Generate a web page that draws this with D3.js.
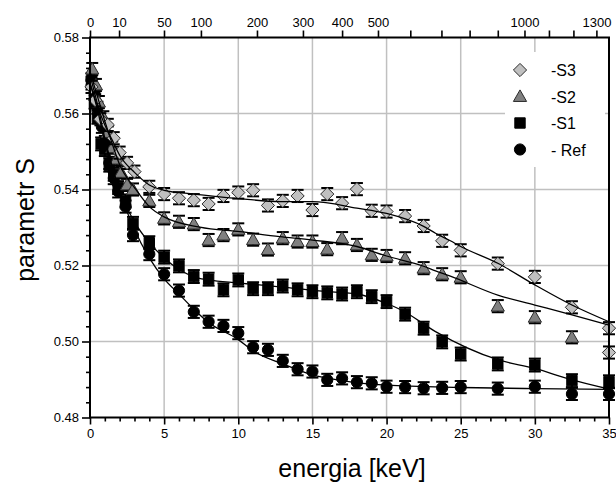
<!DOCTYPE html>
<html>
<head>
<meta charset="utf-8">
<script src="https://cdn.jsdelivr.net/npm/d3@7"></script>
<style>
  body { margin: 0; background: #fff; }
  text { font-family: "Liberation Sans", Arial, sans-serif; }
</style>
</head>
<body>
<svg width="616" height="489"></svg>
<script>
// data

var energyRef = [0.1, 0.3, 0.5, 0.8, 1.0, 1.3, 1.6, 1.9, 2.4, 2.9, 4, 5, 6, 7, 8, 9, 10, 11, 12, 13, 14, 15, 16, 17, 18, 19, 20, 21.25, 22.5, 23.75, 25, 27.5, 30, 32.5, 35];
var sRef = [0.5690, 0.5655, 0.5615, 0.5565, 0.5525, 0.5470, 0.5430, 0.5395, 0.5355, 0.5280, 0.5230, 0.5177, 0.5134, 0.5078, 0.5052, 0.5041, 0.5022, 0.4985, 0.4978, 0.4949, 0.4927, 0.4921, 0.4899, 0.4903, 0.4893, 0.4890, 0.4881, 0.4880, 0.4877, 0.4878, 0.4880, 0.4876, 0.4881, 0.4862, 0.4862];

var energyS1 = [0.1, 0.3, 0.5, 0.75, 1.0, 1.3, 1.6, 1.9, 2.4, 2.9, 4, 5, 6, 7, 8, 9, 10, 11, 12, 13, 14, 15, 16, 17, 18, 19, 20, 21.25, 22.5, 23.75, 25, 27.5, 30, 32.5, 35];
var sS1 = [0.5680, 0.5630, 0.5590, 0.5520, 0.5505, 0.5464, 0.5440, 0.5405, 0.5370, 0.5311, 0.5260, 0.5222, 0.5199, 0.5171, 0.5164, 0.5136, 0.5162, 0.5139, 0.5139, 0.5146, 0.5136, 0.5131, 0.5128, 0.5125, 0.5131, 0.5118, 0.5105, 0.5072, 0.5035, 0.4999, 0.4967, 0.4941, 0.4938, 0.4897, 0.4894];

var energyS2 = [0.15, 0.4, 0.6, 0.9, 1.2, 1.5, 1.8, 2.1, 2.5, 2.9, 4, 5, 6, 7, 8, 9, 10, 11, 12, 13, 14, 15, 16, 17, 18, 19, 20, 21.25, 22.5, 23.75, 25, 27.5, 30, 32.5];
var sS2 = [0.5717, 0.5675, 0.5630, 0.5590, 0.5550, 0.5510, 0.5480, 0.5445, 0.5412, 0.5400, 0.5370, 0.5324, 0.5315, 0.5309, 0.5267, 0.5280, 0.5295, 0.5268, 0.5242, 0.5272, 0.5263, 0.5263, 0.5243, 0.5272, 0.5254, 0.5228, 0.5225, 0.5219, 0.5193, 0.5177, 0.5169, 0.5093, 0.5064, 0.5011];

var energyS3 = [0.1, 0.35, 0.7, 1.2, 1.6, 2.0, 2.5, 3.0, 4, 5, 6, 7, 8, 9, 10, 11, 12, 13, 14, 15, 16, 17, 18, 19, 20, 21.25, 22.5, 23.75, 25, 27.5, 30, 32.5, 35, 35];
var sS3 = [0.5670, 0.5635, 0.5585, 0.5570, 0.5535, 0.5497, 0.5470, 0.5447, 0.5407, 0.5388, 0.5377, 0.5372, 0.5362, 0.5383, 0.5392, 0.5398, 0.5358, 0.5370, 0.5383, 0.5346, 0.5388, 0.5364, 0.5401, 0.5344, 0.5342, 0.5330, 0.5304, 0.5265, 0.5240, 0.5205, 0.5170, 0.5090, 0.5035, 0.4971];

var errRef = 0.0016, errS1 = 0.0017, errS2 = 0.0016, errS3 = 0.0016;

// fitted curves
var fitEnergyRef = [0, 0.5, 1, 1.5, 2, 3, 4, 5, 6, 7, 8, 10, 11, 13, 15, 17, 20, 25, 30, 35];
var fitRef = [0.5700, 0.5625, 0.5535, 0.5460, 0.5395, 0.5295, 0.5220, 0.5165, 0.5125, 0.5085, 0.5050, 0.5005, 0.4975, 0.4941, 0.4912, 0.4897, 0.4885, 0.4879, 0.4876, 0.4874];

var fitEnergyS1 = [0, 0.5, 1, 1.5, 2, 3, 4, 5, 6, 7, 8, 10, 12.8, 16, 18, 20, 21, 23.3, 27.5, 30, 32.5, 35];
var fitS1 = [0.5680, 0.5610, 0.5525, 0.5455, 0.5395, 0.5315, 0.5260, 0.5220, 0.5190, 0.5170, 0.5162, 0.5154, 0.5144, 0.5131, 0.5125, 0.5100, 0.5083, 0.5026, 0.4952, 0.4929, 0.4899, 0.4875];

var fitEnergyS2 = [0, 0.5, 1, 1.5, 2, 3, 4, 5, 7.4, 10.1, 12.8, 15, 18, 20, 22.5, 23.3, 24.3, 27.5, 30, 32.5, 35];
var fitS2 = [0.5710, 0.5645, 0.5580, 0.5520, 0.5465, 0.5405, 0.5355, 0.5328, 0.5301, 0.5289, 0.5276, 0.5267, 0.5250, 0.5225, 0.5198, 0.5186, 0.5172, 0.5122, 0.5096, 0.5070, 0.5043];

var fitEnergyS3 = [0, 0.5, 1, 1.5, 2, 3, 4, 5, 7, 10.1, 12.8, 15, 18, 20, 22.5, 23.3, 24.3, 25, 27.5, 30, 32.5, 35];
var fitS3 = [0.5680, 0.5620, 0.5570, 0.5530, 0.5490, 0.5445, 0.5412, 0.5398, 0.5388, 0.5376, 0.5368, 0.5368, 0.5351, 0.5337, 0.5303, 0.5285, 0.5265, 0.5250, 0.5206, 0.5149, 0.5096, 0.5052];

// top axis: depth [nm] and its energy position
var topDepth = [0, 10, 50, 100, 200, 300, 400, 500, 600, 700, 800, 900, 1000, 1100, 1200, 1300];
var topEnergy = [0, 1.96, 4.99, 7.48, 11.26, 14.36, 17.0, 19.42, 21.6, 23.7, 25.6, 27.5, 29.3, 30.95, 32.6, 34.15];
var topLabelled = [0, 10, 50, 100, 200, 300, 400, 500, 1000, 1300];

var xTicks = [0, 5, 10, 15, 20, 25, 30, 35];
var yTicks = [0.48, 0.50, 0.52, 0.54, 0.56, 0.58];

var legendNames = ["-S3", "-S2", "-S1", "- Ref"];

var svg = d3.select("svg");

var x = d3.scaleLinear().domain([0, 35]).range([90, 609]),
    y = d3.scaleLinear().domain([0.48, 0.58]).range([417.5, 37.5]);

// grid
var grid = svg.append("g").attr("stroke", "#c0c0c0").attr("stroke-width", 1.5);
grid.selectAll(".gx").data(xTicks.slice(1, -1)).enter().append("line")
    .attr("x1", function(d) { return x(d); }).attr("x2", function(d) { return x(d); })
    .attr("y1", y(0.48)).attr("y2", y(0.58));
grid.selectAll(".gy").data(yTicks.slice(1, -1)).enter().append("line")
    .attr("x1", x(0)).attr("x2", x(35))
    .attr("y1", function(d) { return y(d); }).attr("y2", function(d) { return y(d); });

// markers
function diamond(r) { return "M0," + (-r) + "L" + r + ",0L0," + r + "L" + (-r) + ",0Z"; }
function triangle(r) { return "M0," + (-r) + "L" + r + "," + (r * 0.75) + "L" + (-r) + "," + (r * 0.75) + "Z"; }
function square(r) { return "M" + (-r) + "," + (-r) + "h" + (2 * r) + "v" + (2 * r) + "h" + (-2 * r) + "Z"; }
function circle(r) { return d3.symbol().type(d3.symbolCircle).size(Math.PI * r * r)(); }

var series = [
  {name: "Ref", e: energyRef, s: sRef, err: errRef, fe: fitEnergyRef, fs: fitRef, path: circle(5.6), fill: "#000", stroke: "#000"},
  {name: "S1", e: energyS1, s: sS1, err: errS1, fe: fitEnergyS1, fs: fitS1, path: square(5.2), fill: "#000", stroke: "#000"},
  {name: "S2", e: energyS2, s: sS2, err: errS2, fe: fitEnergyS2, fs: fitS2, path: triangle(6.6), fill: "#808080", stroke: "#2a2a2a"},
  {name: "S3", e: energyS3, s: sS3, err: errS3, fe: fitEnergyS3, fs: fitS3, path: diamond(6.6), fill: "#c0c0c0", stroke: "#2a2a2a"}
];

var line = d3.line()
    .curve(d3.curveMonotoneX)
    .x(function(d) { return x(d[0]); })
    .y(function(d) { return y(d[1]); });

// points with error bars
series.forEach(function(ser) {
  var pts = ser.e.map(function(e, i) { return {e: e, s: ser.s[i], err: ser.err}; });
  var g = svg.append("g").attr("class", "series-" + ser.name);
  var eb = g.selectAll(".eb").data(pts).enter().append("g")
      .attr("stroke", "#000").attr("stroke-width", 2);
  eb.append("line")
      .attr("x1", function(d) { return x(d.e); }).attr("x2", function(d) { return x(d.e); })
      .attr("y1", function(d) { return y(d.s - d.err); }).attr("y2", function(d) { return y(d.s + d.err); });
  eb.append("line")
      .attr("x1", function(d) { return x(d.e) - 6; }).attr("x2", function(d) { return x(d.e) + 6; })
      .attr("y1", function(d) { return y(d.s - d.err); }).attr("y2", function(d) { return y(d.s - d.err); });
  eb.append("line")
      .attr("x1", function(d) { return x(d.e) - 6; }).attr("x2", function(d) { return x(d.e) + 6; })
      .attr("y1", function(d) { return y(d.s + d.err); }).attr("y2", function(d) { return y(d.s + d.err); });
  g.selectAll(".pt").data(pts).enter().append("path")
      .attr("d", ser.path)
      .attr("transform", function(d) { return "translate(" + x(d.e) + "," + y(d.s) + ")"; })
      .attr("fill", ser.fill).attr("stroke", ser.stroke).attr("stroke-width", 1);
});

// fit lines
series.forEach(function(ser) {
  svg.append("path")
      .datum(ser.fe.map(function(e, i) { return [e, ser.fs[i]]; }))
      .attr("fill", "none").attr("stroke", "#000").attr("stroke-width", 1.3)
      .attr("d", line);
});

// legend
var legend = svg.append("g");
legend.append("rect").attr("x", 505).attr("y", 52).attr("width", 100).attr("height", 115).attr("fill", "#fff");
var legSeries = [series[3], series[2], series[1], series[0]];
legSeries.forEach(function(ser, i) {
  var ly = 70 + i * 26.5;
  legend.append("path").attr("d", ser.path)
      .attr("transform", "translate(520," + ly + ")")
      .attr("fill", ser.fill).attr("stroke", ser.stroke).attr("stroke-width", 1);
  legend.append("text").attr("x", 551).attr("y", ly + 6)
      .attr("font-size", 16).attr("fill", "#000").text(legendNames[i]);
});

// frame
svg.append("rect").attr("x", x(0)).attr("y", y(0.58))
    .attr("width", x(35) - x(0)).attr("height", y(0.48) - y(0.58))
    .attr("fill", "none").attr("stroke", "#000").attr("stroke-width", 2);

// axes
var xAxis = svg.append("g").attr("transform", "translate(0," + y(0.48) + ")")
    .call(d3.axisBottom(x).tickValues(xTicks).tickSize(7).tickPadding(4).tickFormat(d3.format("d")));
var xMinor = svg.append("g").attr("transform", "translate(0," + y(0.48) + ")")
    .call(d3.axisBottom(x).tickValues(d3.range(0, 36).filter(function(d) { return d % 5; })).tickSize(4).tickFormat(""));

var yAxis = svg.append("g").attr("transform", "translate(" + x(0) + ",0)")
    .call(d3.axisLeft(y).tickValues(yTicks).tickSize(8).tickPadding(3).tickFormat(d3.format(".2f")));
var yMinor = svg.append("g").attr("transform", "translate(" + x(0) + ",0)")
    .call(d3.axisLeft(y).tickValues(d3.range(0, 26).map(function(i) { return 0.48 + i * 0.004; }).filter(function(d, i) { return i % 5; })).tickSize(4).tickFormat(""));

var topAxis = svg.append("g").attr("transform", "translate(0," + y(0.58) + ")")
    .call(d3.axisTop(x).tickValues(topEnergy).tickSize(7).tickPadding(4)
      .tickFormat(function(d, i) { return topLabelled.indexOf(topDepth[i]) >= 0 ? topDepth[i] : ""; }));

[xAxis, xMinor, yAxis, yMinor, topAxis].forEach(function(a) {
  a.select(".domain").remove();
  a.selectAll(".tick line").attr("stroke", "#000").attr("stroke-width", 1.6);
  a.selectAll(".tick text").attr("font-size", 13).attr("fill", "#000")
      .attr("font-family", "'Liberation Sans', Arial, sans-serif");
});

// titles
svg.append("text").attr("x", 352).attr("y", 477).attr("text-anchor", "middle")
    .attr("font-size", 25).attr("fill", "#000").text("energia [keV]");
svg.append("text").attr("transform", "translate(34,220) rotate(-90)").attr("text-anchor", "middle")
    .attr("font-size", 25).attr("fill", "#000").text("parametr S");
</script>
</body>
</html>
